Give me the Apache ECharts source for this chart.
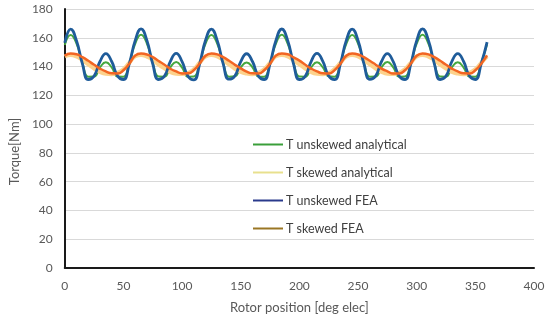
<!DOCTYPE html>
<html>
<head>
<meta charset="utf-8">
<script src="https://cdn.jsdelivr.net/npm/echarts@6/dist/echarts.min.js"></script>
<style>
html,body{margin:0;padding:0;background:#fff;}
#chart{width:550px;height:321px;}
</style>
</head>
<body>
<div id="chart"></div>
<script>
var rotorPos = [0,5,10,15,20,25,30,35,40,45,50,55,
  60,65,70,75,80,85,90,95,100,105,110,115,
  120,125,130,135,140,145,150,155,160,165,170,175,
  180,185,190,195,200,205,210,215,220,225,230,235,
  240,245,250,255,260,265,270,275,280,285,290,295,
  300,305,310,315,320,325,330,335,340,345,350,355,360];

var tUnskewedAnalytical = [155,162,155.9,142.6,133,133.1,139.4,143,139.4,133.1,133,142.6,
  155.8,162.1,156,142.5,133.1,133,139.5,143.1,139.3,133,133.1,142.5,
  155.9,162,155.8,142.7,133,133.2,139.4,142.9,139.5,133.1,132.9,142.6,
  156,162.1,155.9,142.5,133.1,133,139.3,143,139.4,133.2,133,142.7,
  155.8,162,156,142.6,133,133.1,139.5,143.1,139.4,133,133.1,142.5,
  155.9,162.1,155.9,142.6,133.1,133,139.4,143,139.3,133.1,133,142.6,155.5];

var tSkewedAnalytical = [147,148,147,144.5,141.5,138.6,136.3,135,134.7,135.6,138.2,142.6,
  147.1,148,146.9,144.6,141.4,138.7,136.2,135,134.8,135.5,138.1,142.7,
  147,148.1,147,144.5,141.5,138.5,136.3,135.1,134.7,135.6,138.2,142.6,
  147.1,148,147.1,144.4,141.6,138.6,136.2,135,134.7,135.5,138.3,142.5,
  147,148.1,147,144.5,141.5,138.6,136.3,135,134.8,135.6,138.2,142.6,
  147,148,146.9,144.5,141.4,138.6,136.3,135.1,134.7,135.6,138.1,142.6,147];

var tUnskewedFEA = [156.5,166,158,142,131,133.5,143.5,149,143.5,133.5,131,142,
  158,166.2,158.2,141.8,131,133.4,143.6,149.2,143.4,133.3,130.8,141.9,
  158.3,166,158,142,131.2,133.5,143.4,148.9,143.5,133.5,131,142.1,
  158.1,166.1,158.2,141.9,131,133.3,143.5,149.1,143.6,133.4,130.9,142,
  158.2,166,158.1,142,131.1,133.5,143.5,149,143.4,133.5,131,141.9,
  158,166.2,158.2,142.1,131,133.4,143.6,149,143.5,133.4,131,142,157];

var tSkewedFEA = [147.5,149,148.5,146.5,144,141.2,138.6,136.6,135.3,135.2,137.4,142,
  147.6,149,148.4,146.6,143.9,141.3,138.5,136.6,135.2,135.3,137.5,142.1,
  147.5,149.1,148.5,146.5,144,141.2,138.7,136.5,135.3,135.2,137.4,142,
  147.6,149,148.5,146.4,144.1,141.2,138.6,136.6,135.3,135.1,137.5,142,
  147.5,149,148.4,146.5,144,141.3,138.6,136.7,135.2,135.2,137.4,142.1,
  147.5,149.1,148.5,146.5,144,141.2,138.6,136.6,135.3,135.2,137.4,142,147.8];

var seriesNames = ['T unskewed analytical','T skewed analytical','T unskewed FEA','T skewed FEA'];
var xTicks = {min:0, max:400, interval:50};
var yTicks = {min:0, max:180, interval:20};

function pairs(ys){ return rotorPos.map(function(x,i){ return [x, ys[i]]; }); }

var font = 'Lato, "Open Sans", sans-serif';
var chart = echarts.init(document.getElementById('chart'), null, {renderer:'canvas'});
var legendIcon = 'path://M0,6L30,6L30,8L0,8Z';
chart.setOption({
  animation:false,
  backgroundColor:'#ffffff',
  grid:{left:57, right:16, top:9, bottom:53},
  legend:{
    orient:'vertical', left:248, top:133, itemWidth:30, itemHeight:14, itemGap:15,
    icon:legendIcon,
    textStyle:{fontFamily:font, fontSize:12.5, color:'#404040', padding:[0,0,0,-2]},
    data:[
      {name:seriesNames[0], itemStyle:{color:'#3a9f3a'}},
      {name:seriesNames[1], itemStyle:{color:'#e8e08e'}},
      {name:seriesNames[2], itemStyle:{color:'#2a3a8c'}},
      {name:seriesNames[3], itemStyle:{color:'#9a7624'}}
    ]
  },
  xAxis:[{
    type:'value', min:xTicks.min, max:xTicks.max, interval:xTicks.interval,
    name:'Rotor position [deg elec]', nameLocation:'middle', nameGap:33,
    nameTextStyle:{fontFamily:font, fontSize:13, color:'#595959'},
    axisLine:{show:true, lineStyle:{color:'#d9d9d9', width:1}},
    axisTick:{show:false},
    axisLabel:{fontFamily:font, fontSize:12, color:'#595959', margin:12},
    splitLine:{show:false}
  },{
    type:'value', position:'top', min:xTicks.min, max:xTicks.max,
    axisLine:{show:true, lineStyle:{color:'#1a1a1a', width:2}},
    axisTick:{show:false}, axisLabel:{show:false}, splitLine:{show:false}
  }],
  yAxis:[{
    type:'value', min:yTicks.min, max:yTicks.max, interval:yTicks.interval,
    name:'Torque[Nm]', nameLocation:'middle', nameGap:38,
    nameTextStyle:{fontFamily:font, fontSize:13, color:'#595959', padding:[0,26,0,0]},
    axisLine:{show:true, lineStyle:{color:'#d9d9d9', width:1}},
    axisTick:{show:false},
    axisLabel:{fontFamily:font, fontSize:12, color:'#595959', margin:12},
    splitLine:{show:true, lineStyle:{color:'#d9d9d9', width:1}}
  },{
    type:'value', position:'right', min:yTicks.min, max:yTicks.max, interval:yTicks.interval,
    axisLine:{show:true, lineStyle:{color:'#1a1a1a', width:2}},
    axisTick:{show:false}, axisLabel:{show:false}, splitLine:{show:false}
  }],
  series:[
    {name:seriesNames[0], type:'line', data:pairs(tUnskewedAnalytical), smooth:true, symbol:'none',
      lineStyle:{color:'#46a83f', width:2}, itemStyle:{color:'#46a83f'}, z:2},
    {name:seriesNames[1], type:'line', data:pairs(tSkewedAnalytical), smooth:true, symbol:'none',
      lineStyle:{color:'#fdd28c', width:4}, itemStyle:{color:'#fdd28c'}, z:3},
    {name:seriesNames[2], type:'line', data:pairs(tUnskewedFEA), smooth:true, symbol:'none',
      lineStyle:{color:'#1f5c9a', width:2.8}, itemStyle:{color:'#1f5c9a'}, z:4},
    {name:seriesNames[3], type:'line', data:pairs(tSkewedFEA), smooth:true, symbol:'none',
      lineStyle:{color:'#f26522', width:2.5}, itemStyle:{color:'#f26522'}, z:5}
  ]
});
</script>
</body>
</html>
